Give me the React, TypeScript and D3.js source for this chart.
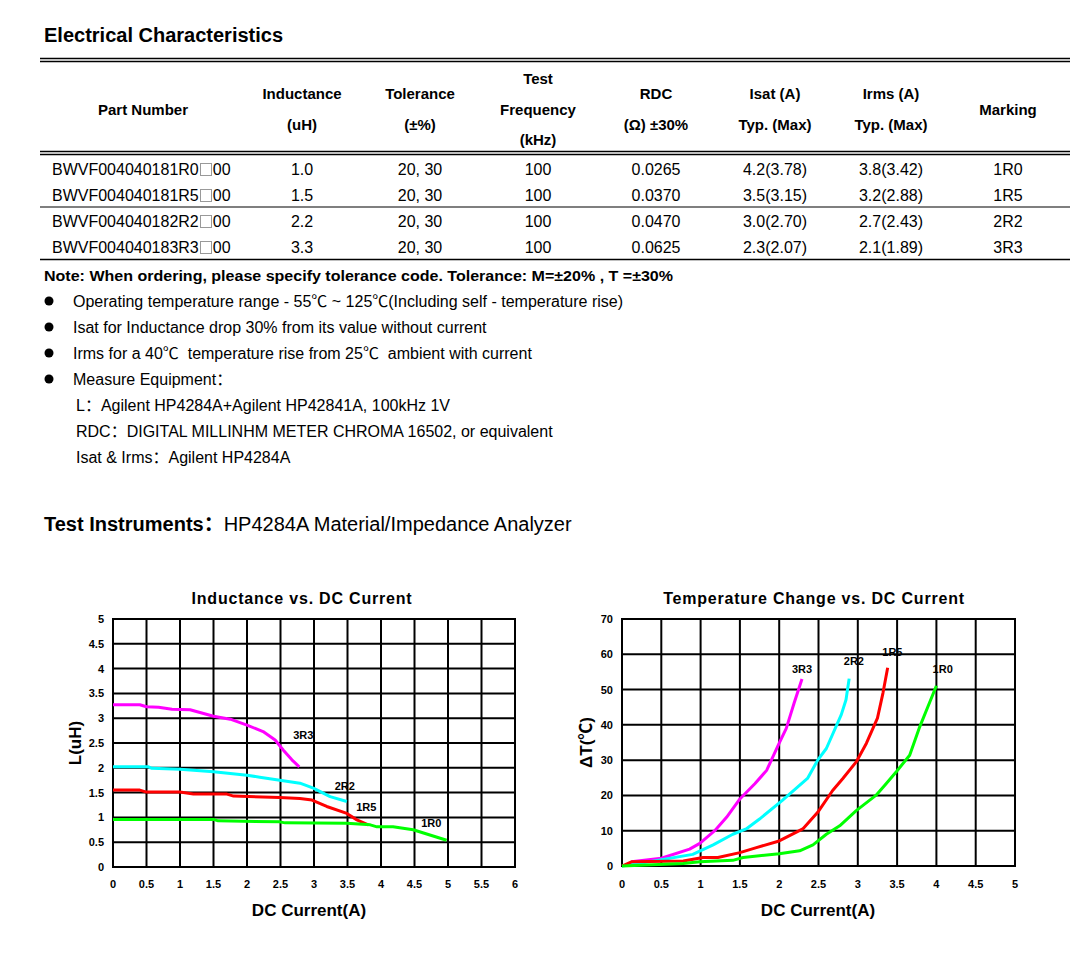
import * as d3 from "d3";
import { useLayoutEffect } from "react";

// ---- table data ----
const partPrefix = ["BWVF004040181R0", "BWVF004040181R5", "BWVF004040182R2", "BWVF004040183R3"];
const inductance = ["1.0", "1.5", "2.2", "3.3"];
const tolerance = ["20, 30", "20, 30", "20, 30", "20, 30"];
const testFreq = ["100", "100", "100", "100"];
const rdc = ["0.0265", "0.0370", "0.0470", "0.0625"];
const isat = ["4.2(3.78)", "3.5(3.15)", "3.0(2.70)", "2.3(2.07)"];
const irms = ["3.8(3.42)", "3.2(2.88)", "2.7(2.43)", "2.1(1.89)"];
const marking = ["1R0", "1R5", "2R2", "3R3"];

const headers = [
  ["Part Number"],
  ["Inductance", "(uH)"],
  ["Tolerance", "(±%)"],
  ["Test", "Frequency", "(kHz)"],
  ["RDC", "(Ω) ±30%"],
  ["Isat (A)", "Typ. (Max)"],
  ["Irms (A)", "Typ. (Max)"],
  ["Marking"],
];

const bullets = [
  "Operating temperature range - 55℃ ~ 125℃(Including self - temperature rise)",
  "Isat for Inductance drop 30% from its value without current",
  "Irms for a 40℃  temperature rise from 25℃  ambient with current",
  "Measure Equipment：",
];
const equipment = [
  "L：Agilent HP4284A+Agilent HP42841A, 100kHz 1V",
  "RDC：DIGITAL MILLINHM METER CHROMA 16502, or equivalent",
  "Isat & Irms：Agilent HP4284A",
];

// ---- inductance vs DC current ----
const L_3R3 = [[0, 3.27], [0.4, 3.27], [0.5, 3.23], [0.68, 3.22], [0.88, 3.18], [1.15, 3.17], [1.5, 3.04], [1.75, 2.98], [2.0, 2.86], [2.24, 2.73], [2.42, 2.56], [2.54, 2.36], [2.67, 2.16], [2.78, 2.02]];
const L_2R2 = [[0, 2.02], [0.53, 2.02], [0.58, 1.99], [1.0, 1.97], [1.5, 1.92], [2.0, 1.85], [2.19, 1.81], [2.49, 1.75], [2.79, 1.69], [2.99, 1.59], [3.24, 1.42], [3.49, 1.32]];
const L_1R5 = [[0, 1.55], [0.4, 1.55], [0.5, 1.51], [1.0, 1.51], [1.2, 1.47], [1.7, 1.47], [1.8, 1.43], [2.49, 1.4], [2.79, 1.38], [2.97, 1.35], [3.19, 1.22], [3.49, 1.08], [3.64, 0.95], [3.81, 0.85]];
const L_1R0 = [[0, 0.96], [1.5, 0.96], [1.57, 0.93], [2.49, 0.91], [2.57, 0.89], [3.49, 0.88], [3.84, 0.85], [3.94, 0.81], [4.18, 0.81], [4.48, 0.75], [4.98, 0.54]];

// ---- temperature rise vs DC current ----
const T_3R3 = [[0.12, 1.2], [0.5, 2.2], [0.86, 4.8], [0.99, 6.4], [1.18, 10], [1.33, 13.8], [1.5, 19], [1.69, 23.3], [1.84, 27.1], [2.0, 34.8], [2.09, 39], [2.19, 46.2], [2.29, 53]];
const T_2R2 = [[0, 0], [0.35, 1.2], [0.9, 3.3], [1.16, 6], [1.41, 9], [1.58, 10.5], [1.75, 13.3], [2.04, 18.6], [2.36, 24.8], [2.49, 30], [2.6, 33.3], [2.79, 42.9], [2.85, 47.1], [2.89, 53.1]];
const T_1R5 = [[0, 0], [0.12, 1.2], [0.78, 1.4], [1.03, 2.4], [1.22, 2.4], [1.5, 3.8], [1.71, 5.2], [2.0, 7.1], [2.3, 10.5], [2.49, 15.2], [2.68, 21.4], [2.81, 24.8], [2.98, 29.5], [3.11, 34.8], [3.25, 41.9], [3.32, 49], [3.38, 56.2]];
const T_1R0 = [[0, 0], [0.78, 0.7], [0.99, 1.2], [1.41, 1.6], [1.54, 2.4], [2.0, 3.5], [2.26, 4.3], [2.43, 6], [2.6, 9], [2.77, 11.4], [2.98, 15.7], [3.23, 20], [3.36, 23.3], [3.49, 26.7], [3.66, 31.4], [3.78, 39], [4.0, 51.1]];

const lXTicks = [0, 0.5, 1, 1.5, 2, 2.5, 3, 3.5, 4, 4.5, 5, 5.5, 6];
const lYTicks = [0, 0.5, 1, 1.5, 2, 2.5, 3, 3.5, 4, 4.5, 5];
const tXTicks = [0, 0.5, 1, 1.5, 2, 2.5, 3, 3.5, 4, 4.5, 5];
const tYTicks = [0, 10, 20, 30, 40, 50, 60, 70];

const FONT = "'Liberation Sans', Arial, 'Noto Sans CJK SC', sans-serif";

type Pt = number[];

function Chart(props: {
  x: d3.ScaleLinear<number, number>;
  y: d3.ScaleLinear<number, number>;
  xTicks: number[];
  yTicks: number[];
  series: { name: string; color: string; data: Pt[]; label: number[] }[];
  title: string;
  titleX: number;
  xLabelX: number;
  yLabel: string;
  yLabelX: number;
}) {
  const { x, y } = props;
  const [x0, x1] = x.range();
  const [y0, y1] = y.range();
  const line = d3
    .line<Pt>()
    .x((d) => x(d[0]))
    .y((d) => y(d[1]));
  return (
    <g fontFamily={FONT}>
      <text x={props.titleX} y={604} textAnchor="middle" fontWeight="bold" fontSize={16} letterSpacing={0.8}>
        {props.title}
      </text>
      {props.xTicks.map((t) => (
        <line key={"vx" + t} x1={x(t)} x2={x(t)} y1={y0 + 1} y2={y1 - 1} stroke="#000" strokeWidth={2} />
      ))}
      {props.yTicks.map((t) => (
        <line key={"hy" + t} x1={x0 - 1} x2={x1 + 1} y1={y(t)} y2={y(t)} stroke="#000" strokeWidth={2} />
      ))}
      {props.xTicks.map((t) => (
        <text key={"tx" + t} x={x(t)} y={888} textAnchor="middle" fontWeight="bold" fontSize={11}>
          {String(t)}
        </text>
      ))}
      {props.yTicks.map((t) => (
        <text key={"ty" + t} x={x0 - 9} y={y(t) + 4} textAnchor="end" fontWeight="bold" fontSize={11}>
          {String(t)}
        </text>
      ))}
      {props.series.map((s) => (
        <path key={s.name} d={line(s.data) || ""} fill="none" stroke={s.color} strokeWidth={3} strokeLinejoin="round" />
      ))}
      {props.series.map((s) => (
        <text key={"l" + s.name} x={x(s.label[0])} y={y(s.label[1]) + 4} textAnchor="middle" fontWeight="bold" fontSize={11}>
          {s.name}
        </text>
      ))}
      <text x={props.xLabelX} y={916} textAnchor="middle" fontWeight="bold" fontSize={17}>
        DC Current(A)
      </text>
      <text
        transform={`translate(${props.yLabelX},${(y0 + y1) / 2}) rotate(-90)`}
        textAnchor="middle"
        fontWeight="bold"
        fontSize={17}
      >
        {props.yLabel}
      </text>
    </g>
  );
}

export default function App() {
  useLayoutEffect(() => {
    document.body.style.margin = "0";
  }, []);

  const xL = d3.scaleLinear().domain([0, 6]).range([113, 515]);
  const yL = d3.scaleLinear().domain([0, 5]).range([867, 619]);
  const xT = d3.scaleLinear().domain([0, 5]).range([622, 1015]);
  const yT = d3.scaleLinear().domain([0, 70]).range([866, 619]);

  const colX = [143, 302, 420, 538, 656, 775, 891, 1008];
  const rowY = [175, 201, 227, 253];
  const headerBase: Record<number, number[]> = { 1: [115], 2: [99, 130], 3: [84, 115, 145] };
  const rowCols = [inductance, tolerance, testFreq, rdc, isat, irms, marking];

  return (
    <svg width={1090} height={967} style={{ display: "block" }} fontFamily={FONT}>
      <rect width={1090} height={967} fill="#fff" />
      <text x={44} y={42} fontWeight="bold" fontSize={20}>
        Electrical Characteristics
      </text>
      {/* table rules */}
      <line x1={40} x2={1070} y1={58.5} y2={58.5} stroke="#000" strokeWidth={1.4} />
      <line x1={40} x2={1070} y1={61.5} y2={61.5} stroke="#000" strokeWidth={1.4} />
      <line x1={40} x2={1070} y1={151.5} y2={151.5} stroke="#000" strokeWidth={1.4} />
      <line x1={40} x2={1070} y1={154.5} y2={154.5} stroke="#000" strokeWidth={1.4} />
      <line x1={40} x2={1070} y1={207} y2={207} stroke="#000" strokeWidth={1.2} />
      <line x1={40} x2={1070} y1={259.5} y2={259.5} stroke="#000" strokeWidth={1.4} />
      {headers.map((h, i) =>
        h.map((t, j) => (
          <text key={"h" + i + j} x={colX[i]} y={headerBase[h.length][j]} textAnchor="middle" fontWeight="bold" fontSize={15}>
            {t}
          </text>
        ))
      )}
      {partPrefix.map((p, r) => (
        <g key={"p" + r}>
          <text x={52} y={rowY[r]} fontSize={16}>
            {p}
            <tspan dx={14}>00</tspan>
          </text>
          <rect x={200.5} y={rowY[r] - 11.5} width={11} height={12} fill="#fff" stroke="#999" strokeWidth={1} />
        </g>
      ))}
      {rowCols.map((col, c) =>
        col.map((v, r) => (
          <text key={"c" + c + r} x={colX[c + 1]} y={rowY[r]} textAnchor="middle" fontSize={16}>
            {v}
          </text>
        ))
      )}
      {/* notes */}
      <text x={44} y={281} fontWeight="bold" fontSize={14} textLength={629} lengthAdjust="spacingAndGlyphs">
        Note: When ordering, please specify tolerance code. Tolerance: M=±20% , T =±30%
      </text>
      {bullets.map((b, i) => (
        <g key={"b" + i}>
          <circle cx={49} cy={301 + i * 26} r={4.5} fill="#000" />
          <text x={73} y={307 + i * 26} fontSize={16} style={{ whiteSpace: "pre" }}>
            {b}
          </text>
        </g>
      ))}
      {equipment.map((e, i) => (
        <text key={"e" + i} x={76} y={411 + i * 26} fontSize={16}>
          {e}
        </text>
      ))}
      <text x={44} y={531} fontSize={20}>
        <tspan fontWeight="bold">Test Instruments：</tspan>
        HP4284A Material/Impedance Analyzer
      </text>

      <Chart
        x={xL}
        y={yL}
        xTicks={lXTicks}
        yTicks={lYTicks}
        title="Inductance vs. DC Current"
        titleX={302}
        xLabelX={309}
        yLabel="L(uH)"
        yLabelX={81}
        series={[
          { name: "3R3", color: "#ff00ff", data: L_3R3, label: [2.84, 2.66] },
          { name: "2R2", color: "#00ffff", data: L_2R2, label: [3.46, 1.63] },
          { name: "1R5", color: "#ff0000", data: L_1R5, label: [3.78, 1.21] },
          { name: "1R0", color: "#00ff00", data: L_1R0, label: [4.75, 0.89] },
        ]}
      />
      <Chart
        x={xT}
        y={yT}
        xTicks={tXTicks}
        yTicks={tYTicks}
        title="Temperature Change vs. DC Current"
        titleX={814}
        xLabelX={818}
        yLabel="ΔT(℃)"
        yLabelX={592}
        series={[
          { name: "3R3", color: "#ff00ff", data: T_3R3, label: [2.29, 55.8] },
          { name: "2R2", color: "#00ffff", data: T_2R2, label: [2.95, 58.1] },
          { name: "1R5", color: "#ff0000", data: T_1R5, label: [3.44, 60.6] },
          { name: "1R0", color: "#00ff00", data: T_1R0, label: [4.08, 55.8] },
        ]}
      />
    </svg>
  );
}
